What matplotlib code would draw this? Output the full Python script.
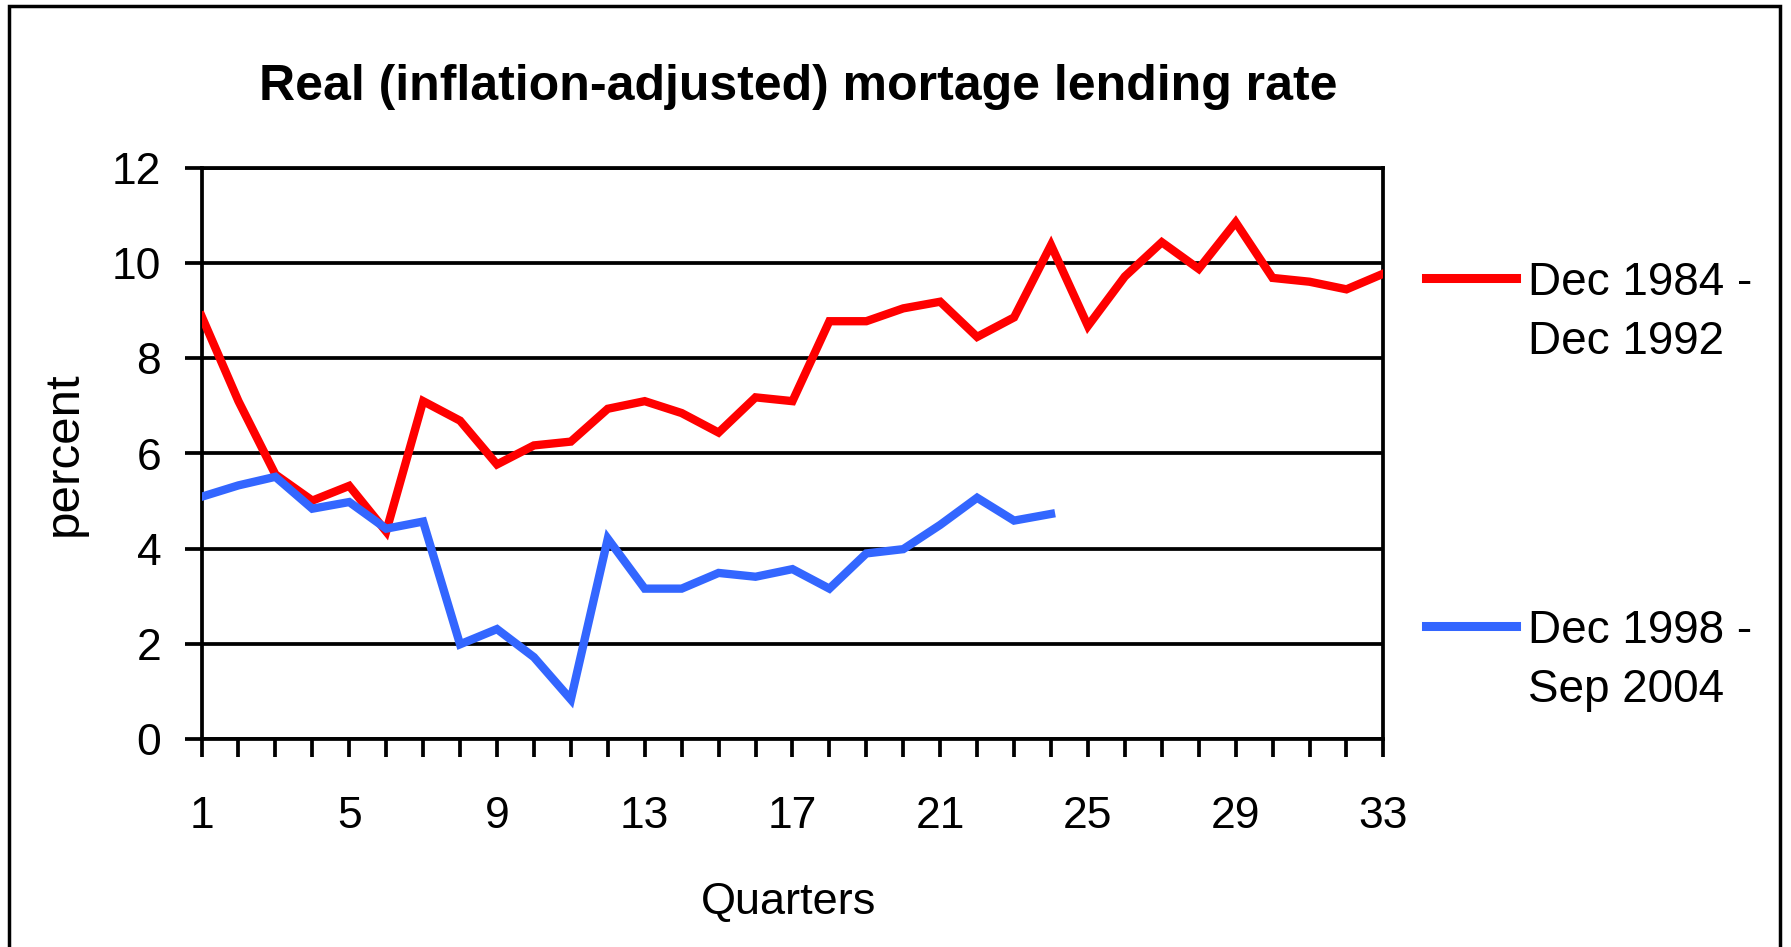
import numpy as np
from matplotlib import pyplot as plt
from matplotlib.lines import Line2D
from matplotlib.patches import Rectangle

plt.rcParams['font.family'] = ['Liberation Sans', 'DejaVu Sans']

# quarters on the x axis
quarters_red = np.arange(1, 34)
quarters_blue = np.arange(1, 25)

# real mortgage lending rate, percent
rate_84_92 = [8.89, 7.10, 5.56, 5.01, 5.32, 4.36, 7.10, 6.69, 5.77, 6.17,
              6.25, 6.94, 7.10, 6.85, 6.44, 7.18, 7.10, 8.78, 8.78, 9.05,
              9.19, 8.45, 8.86, 10.38, 8.68, 9.72, 10.44, 9.88, 10.86, 9.69,
              9.61, 9.45, 9.78]
rate_98_04 = [5.09, 5.33, 5.51, 4.84, 4.98, 4.42, 4.57, 1.99, 2.31, 1.72,
              0.83, 4.21, 3.16, 3.16, 3.49, 3.41, 3.57, 3.16, 3.90, 3.99,
              4.50, 5.07, 4.59, 4.73]

series_labels = [("Dec 1984 -", "Dec 1992"), ("Dec 1998 -", "Sep 2004")]
series_colors = ['#ff0000', '#3366ff']

x_tick_labels = [1, 5, 9, 13, 17, 21, 25, 29, 33]
y_ticks = [0, 2, 4, 6, 8, 10, 12]

W, H = 1791, 947
fig = plt.figure(figsize=(W / 100, H / 100), dpi=100)
ax = fig.add_axes([201.5 / W, 1 - 739 / H, (1383.4 - 201.5) / W, (739 - 168) / H])

ax.plot(quarters_red, rate_84_92, color=series_colors[0], lw=6,
        solid_joinstyle='miter', zorder=3)
ax.plot(quarters_blue, rate_98_04, color=series_colors[1], lw=6,
        solid_joinstyle='miter', zorder=3)

ax.set_xlim(1, 33)
ax.set_ylim(0, 12)
ax.set_yticks(y_ticks)
ax.set_xticks(quarters_red)
ax.set_xticklabels([str(q) if q in x_tick_labels else '' for q in quarters_red])
ax.yaxis.grid(True, color='black', lw=2.7)
ax.set_axisbelow(True)
for s in ax.spines.values():
    s.set_linewidth(2.7)
ax.tick_params(axis='both', direction='out', width=2.7, labelsize=32, colors='black')
ax.tick_params(axis='x', length=13, pad=28)
ax.tick_params(axis='y', length=12, pad=17)

ax.set_xlabel('Quarters', fontsize=32.5)
ax.xaxis.set_label_coords(0.4965, -0.25)
ax.set_ylabel('percent', fontsize=35.5)
ax.yaxis.set_label_coords(-0.097, 0.5)

fig.text(798 / W, 1 - 100 / H, 'Real (inflation-adjusted) mortage lending rate',
         fontsize=36, fontweight='bold', ha='center', va='baseline')

# legend on the right
for (l1, l2), c, ly in zip(series_labels, series_colors, [278, 626]):
    fig.add_artist(Line2D([1426 / W, 1516 / W], [1 - ly / H, 1 - ly / H],
                          color=c, lw=6.5, transform=fig.transFigure))
    fig.text(1528 / W, 1 - (ly + 17) / H, l1, fontsize=33, va='baseline')
    fig.text(1528 / W, 1 - (ly + 76) / H, l2, fontsize=33, va='baseline')

# outer frame
fig.add_artist(Rectangle((9 / W, -0.01), (1780 - 9) / W, 1 - 6 / H + 0.01,
                         fill=False, lw=2.5, edgecolor='black',
                         transform=fig.transFigure))

fig.savefig('out.png', dpi=100)
